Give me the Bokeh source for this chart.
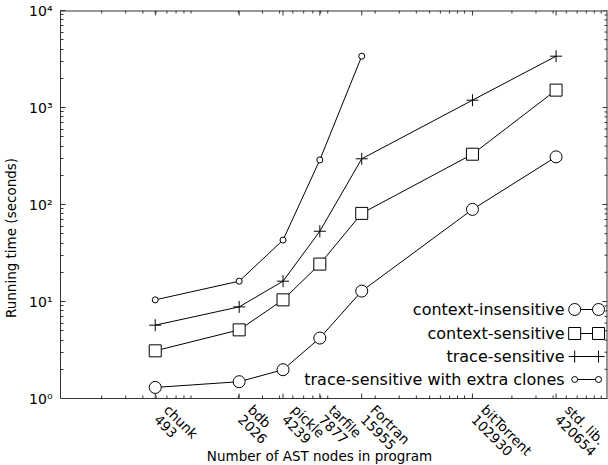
import numpy as np
from bokeh.plotting import figure
from bokeh.models import FixedTicker, Label, Range1d
from bokeh.core.properties import value
from bokeh.embed import file_html
from bokeh.resources import INLINE

# ---------------- data ----------------
programs = ["chunk", "bdb", "pickle", "tarfile", "Fortran", "bitTorrent", "std. lib."]
ast_nodes = [493, 2026, 4239, 7877, 15955, 102930, 420654]
ctx_insensitive = [1.30, 1.49, 1.98, 4.2, 12.8, 89, 310]
ctx_sensitive = [3.1, 5.1, 10.4, 24.3, 81, 330, 1510]
trace_sensitive = [5.7, 8.8, 16.2, 53, 296, 1190, 3380]
trace_extra_nodes = [493, 2026, 4239, 7877, 15955]
trace_extra = [10.4, 16.2, 43, 288, 3380]
y_tick_values = [1, 10, 100, 1000, 10000]
y_tick_labels = ["10\u2070", "10\u00b9", "10\u00b2", "10\u00b3", "10\u2074"]
series_names = ["context-insensitive", "context-sensitive", "trace-sensitive",
                "trace-sensitive with extra clones"]
x_title = "Number of AST nodes in program"
y_title = "Running time (seconds)"

# ---------------- layout / style ----------------
X0, X1 = 1e2, 1e6
Y0, Y1 = 1e0, 1e4
PLOT_W, PLOT_H, STRIP_H = 549, 388, 67   # plotting area and label strip below it
FONT = "DejaVu Sans"
INK = "#000000"
AXIS = "#333333"


def fx(f):
    return 10 ** (np.log10(X0) + f * (np.log10(X1) - np.log10(X0)))


def fy(f):
    # f = 0 at the bottom edge of the plotting area, 1 at its top; negative = strip below
    return 10 ** (np.log10(Y0) + f * (np.log10(Y1) - np.log10(Y0)))


def below(px):
    return fy(-px / PLOT_H)


minor_x = [m * 10 ** k for k in range(2, 6) for m in range(2, 10)]
minor_y = [m * 10 ** k for k in range(0, 4) for m in range(2, 10)]

# the frame extends down to the page bottom so the rotated tick labels can live in it
p = figure(width=608, height=PLOT_H + STRIP_H + 10, x_axis_type="log", y_axis_type="log",
           x_range=Range1d(X0, X1), y_range=Range1d(below(STRIP_H), Y1),
           x_axis_location=None,
           output_backend="svg", toolbar_location=None,
           min_border_left=58, min_border_right=1, min_border_top=10,
           min_border_bottom=0)
p.outline_line_color = None
p.xgrid.visible = False
p.ygrid.visible = False
p.background_fill_color = "white"
p.border_fill_color = "white"

# left axis, limited to the plotting area
ya = p.yaxis[0]
ya.bounds = (Y0, Y1)
ya.ticker = FixedTicker(ticks=y_tick_values, minor_ticks=minor_y)
ya.axis_line_color = AXIS
ya.major_tick_line_color = AXIS
ya.minor_tick_line_color = AXIS
ya.major_tick_in = 5
ya.major_tick_out = 0
ya.minor_tick_in = 3
ya.minor_tick_out = 0
ya.major_label_overrides = {v: t for v, t in zip(y_tick_values, y_tick_labels)}
ya.major_label_text_font = FONT
ya.major_label_text_font_size = "14px"
ya.major_label_text_color = INK
ya.major_label_standoff = 8
ya.axis_label = y_title
ya.axis_label_text_font = FONT
ya.axis_label_text_font_size = "13.5px"
ya.axis_label_text_font_style = "normal"
ya.axis_label_text_color = INK
ya.axis_label_standoff = 7

# box edges (bottom, top, right)
p.segment(x0=[X0], y0=[Y0], x1=[X1], y1=[Y0], line_color=AXIS, line_width=1)
p.segment(x0=[X0], y0=[Y1], x1=[X1], y1=[Y1], line_color=AXIS, line_width=2)
p.segment(x0=[X1], y0=[Y0], x1=[X1], y1=[Y1], line_color=AXIS, line_width=2)

# x ticks on bottom and top edges, mirrored y ticks on the right edge (inward)
n_maj, n_min = len(ast_nodes), len(minor_x)
p.segment(x0=ast_nodes, y0=[Y0] * n_maj, x1=ast_nodes,
          y1=[fy(5 / PLOT_H)] * n_maj, line_color=AXIS, line_width=1)
p.segment(x0=minor_x, y0=[Y0] * n_min, x1=minor_x,
          y1=[fy(3 / PLOT_H)] * n_min, line_color=AXIS, line_width=1)
p.segment(x0=ast_nodes, y0=[Y1] * n_maj, x1=ast_nodes,
          y1=[fy(1 - 5 / PLOT_H)] * n_maj, line_color=AXIS, line_width=1)
p.segment(x0=minor_x, y0=[Y1] * n_min, x1=minor_x,
          y1=[fy(1 - 3 / PLOT_H)] * n_min, line_color=AXIS, line_width=1)
p.segment(x0=[X1] * len(y_tick_values), y0=y_tick_values,
          x1=[fx(1 - 5 / PLOT_W)] * len(y_tick_values), y1=y_tick_values,
          line_color=AXIS, line_width=1)
p.segment(x0=[X1] * len(minor_y), y0=minor_y,
          x1=[fx(1 - 3 / PLOT_W)] * len(minor_y), y1=minor_y,
          line_color=AXIS, line_width=1)

# ---------------- series ----------------
series = [
    (ast_nodes, ctx_insensitive, "circle", 12),
    (ast_nodes, ctx_sensitive, "square", 12),
    (ast_nodes, trace_sensitive, "cross", 12),
    (trace_extra_nodes, trace_extra, "circle", 6),
]
for xs, ys, marker, size in series:
    p.line(xs, ys, line_color=INK, line_width=1)
    p.scatter(xs, ys, marker=marker, size=size, fill_color="white",
              line_color=INK, line_width=1)

# ---------------- legend (gnuplot style: text then key) ----------------
legend_rows = [0.2294, 0.1675, 0.1082, 0.049]
text_right = 0.9217
key_a, key_b = 0.940, 0.9836
for (xs, ys, marker, size), name, fr in zip(series, series_names, legend_rows):
    yy = fy(fr)
    p.add_layout(Label(x=fx(text_right), y=yy, text=name, text_align="right",
                       text_baseline="middle", text_font=FONT,
                       text_font_size="16px", text_color=INK))
    p.line([fx(key_a), fx(key_b)], [yy, yy], line_color=INK, line_width=1)
    p.scatter([fx(key_a), fx(key_b)], [yy, yy], marker=marker, size=size,
              fill_color="white", line_color=INK, line_width=1)

# ---------------- rotated tick labels and x title in the strip ----------------
lab = dict(angle=-np.pi / 4, text_align="left", text_baseline="top",
           text_font=value(FONT), text_font_size="13.5px", text_color=INK)
p.text(x=ast_nodes, y=[below(3)] * n_maj, text=programs, x_offset=17, **lab)
p.text(x=ast_nodes, y=[below(15)] * n_maj, text=[str(v) for v in ast_nodes],
       x_offset=5, **lab)
p.text(x=[fx(0.4736)], y=[below(57)], text=[x_title], text_align="center",
       text_baseline="middle", text_font=value(FONT), text_font_size="13.5px",
       text_color=INK)

open("out.html", "w").write(file_html(p, INLINE))
